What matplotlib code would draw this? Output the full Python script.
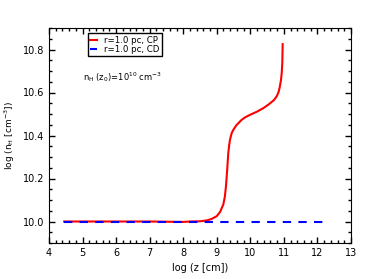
import numpy as np
import matplotlib
matplotlib.use("Agg")
import matplotlib.pyplot as plt
from matplotlib.ticker import MultipleLocator

# red curve (CP)
logz_cp = [4.45, 5.0, 6.0, 7.0, 8.0, 8.2, 8.5, 8.7, 8.85, 9.0, 9.1, 9.194, 9.24, 9.274,
           9.31, 9.343, 9.37, 9.393, 9.444, 9.492, 9.58, 9.691, 9.742, 9.85, 9.989,
           10.2, 10.385, 10.55, 10.705, 10.79, 10.845, 10.88, 10.913, 10.935, 10.952, 10.964]
logn_cp = [10.0, 10.0, 10.0, 10.0, 9.998, 10.0, 10.001, 10.005, 10.012, 10.025, 10.045,
           10.079, 10.115, 10.164, 10.24, 10.319, 10.355, 10.380, 10.411, 10.426, 10.447,
           10.465, 10.473, 10.485, 10.496, 10.511, 10.527, 10.545, 10.565, 10.583, 10.604,
           10.628, 10.658, 10.69, 10.735, 10.825]

# blue dashed curve (CD)
logz_cd = [4.45, 6.0, 8.0, 10.0, 12.2]
logn_cd = [10.0, 10.0, 10.0, 10.0, 10.0]

plt.rcParams['font.size'] = 7
fig = plt.figure(figsize=(3.9, 2.79), dpi=100)
ax = fig.add_axes([49/390, 1-243/279, 302/390, 215/279])

ax.plot(logz_cp, logn_cp, color='red', lw=1.5, label='r=1.0 pc, CP')
ax.plot(logz_cd, logn_cd, color='blue', lw=1.5, ls=(0, (4, 3.5)), label='r=1.0 pc, CD')

ax.set_xlim(4, 13)
ax.set_ylim(9.9, 10.9)
ax.xaxis.set_major_locator(MultipleLocator(1))
ax.xaxis.set_minor_locator(MultipleLocator(0.2))
ax.yaxis.set_major_locator(MultipleLocator(0.2))
ax.yaxis.set_minor_locator(MultipleLocator(0.05))
ax.tick_params(which='both', direction='in', top=True, right=True, labelsize=7)
ax.tick_params(which='major', length=4, width=1)
ax.tick_params(which='minor', length=2, width=1)

ax.set_xlabel('log (z [cm])', fontsize=7)
ax.set_ylabel(r'log (n$_{\rm H}$ [cm$^{-3}$])', fontsize=6.5)
ax.text(0.113, 0.755, r'n$_{\rm H}$ (z$_0$)=10$^{10}$ cm$^{-3}$', transform=ax.transAxes, fontsize=6)

leg = ax.legend(loc='upper left', bbox_to_anchor=(0.13, 0.975), fontsize=6.2, handlelength=0.8,
                borderpad=0.25, labelspacing=0.05, handletextpad=0.8, fancybox=False, framealpha=1,
                borderaxespad=0)
leg.get_frame().set_edgecolor('black')

fig.savefig('out.png', dpi=100)
